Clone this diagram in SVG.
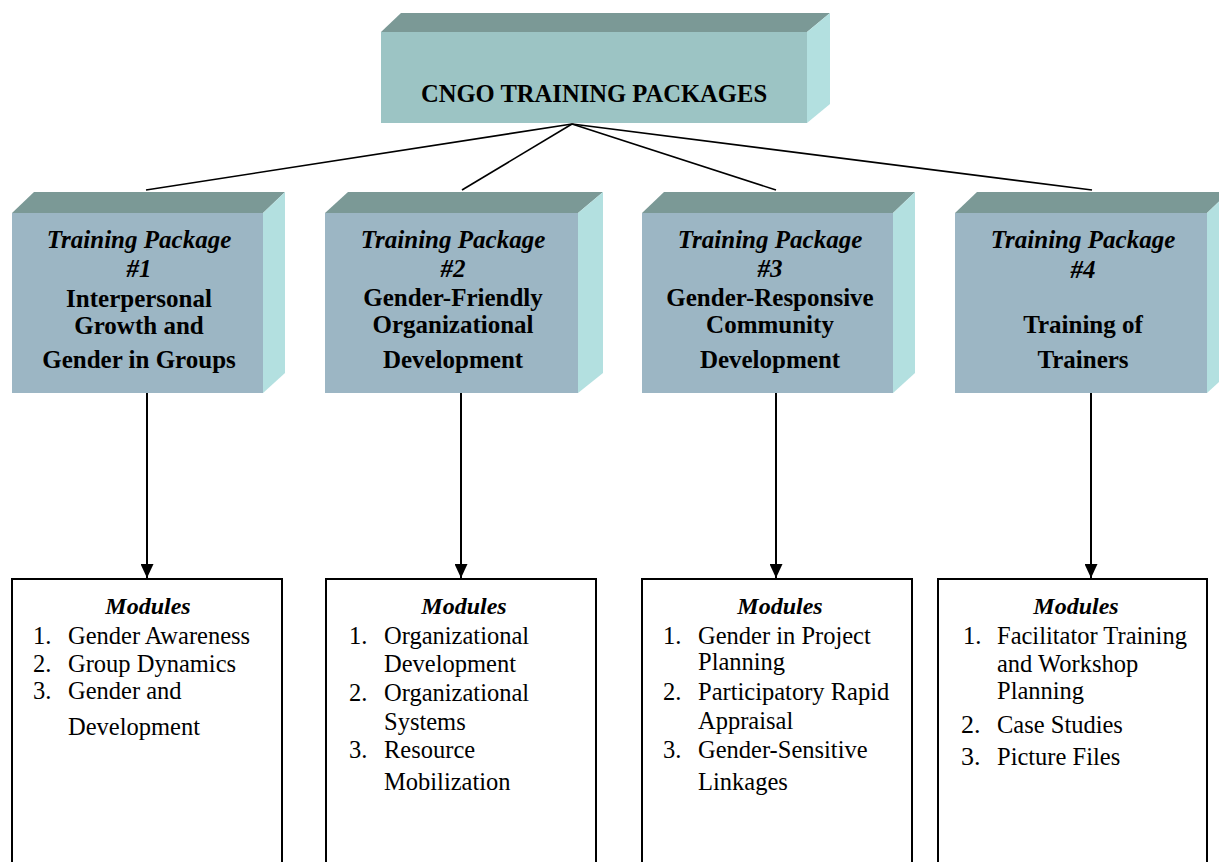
<svg xmlns="http://www.w3.org/2000/svg" width="1219" height="862" viewBox="0 0 1219 862">
<style>
.top{fill:#7b9996}
.front{fill:#9cb6c4}
.tfront{fill:#9cc4c4}
.side{fill:#b3e0e0}
.t{font-family:"Liberation Serif","Times New Roman",serif;fill:#000}
.pk{font-size:25px;font-weight:bold;text-anchor:middle}
.ttl{font-size:24.6px}
.it{font-style:italic}
.mod{font-size:24.5px}
.mh{font-size:24px;font-weight:bold;font-style:italic;text-anchor:middle}
.mbox{fill:#fff;stroke:#000;stroke-width:2}
.ln{stroke:#000;stroke-width:1.6;fill:none}
.ar{stroke:#000;stroke-width:2;fill:none;marker-end:url(#ah)}
</style>
<defs>
<marker id="ah" viewBox="0 0 14 13" refX="14" refY="6.5" markerWidth="14" markerHeight="13" markerUnits="userSpaceOnUse" orient="auto">
<path d="M0,0 L14,6.5 L0,13 Z" fill="#000"/>
</marker>
</defs>
<rect width="1219" height="862" fill="#fff"/>

<g id="connectors">
<line class="ln" x1="572" y1="124" x2="146" y2="190"/>
<line class="ln" x1="572" y1="124" x2="462" y2="190"/>
<line class="ln" x1="572" y1="124" x2="776" y2="190"/>
<line class="ln" x1="572" y1="124" x2="1092" y2="190"/>
<line class="ar" x1="147" y1="393" x2="147" y2="578"/>
<line class="ar" x1="461" y1="393" x2="461" y2="578"/>
<line class="ar" x1="776" y1="393" x2="776" y2="578"/>
<line class="ar" x1="1091" y1="393" x2="1091" y2="578"/>
</g>

<g id="title">
<polygon class="top" points="381,32 401,13 830,13 807,32"/>
<polygon class="side" points="807,32 830,13 830,104 807,123"/>
<rect class="tfront" x="381" y="32" width="426" height="91"/>
<text class="t pk ttl" x="594" y="102">CNGO TRAINING PACKAGES</text>
</g>

<g id="pkg1">
<polygon class="top" points="12,213 34,192 285,192 263,213"/>
<polygon class="side" points="263,213 285,192 285,373 263,393"/>
<rect class="front" x="12" y="213" width="251" height="180"/>
<text class="t pk it" x="139" y="248">Training Package</text>
<text class="t pk it" x="139" y="277">#1</text>
<text class="t pk" x="139" y="307">Interpersonal</text>
<text class="t pk" x="139" y="334">Growth and</text>
<text class="t pk" x="139" y="368">Gender in Groups</text>
</g>

<g id="pkg2">
<polygon class="top" points="325,213 348,192 603,192 578,213"/>
<polygon class="side" points="578,213 603,192 603,373 578,393"/>
<rect class="front" x="325" y="213" width="253" height="180"/>
<text class="t pk it" x="453" y="248">Training Package</text>
<text class="t pk it" x="453" y="277">#2</text>
<text class="t pk" x="453" y="306">Gender-Friendly</text>
<text class="t pk" x="453" y="333">Organizational</text>
<text class="t pk" x="453" y="368">Development</text>
</g>

<g id="pkg3">
<polygon class="top" points="642,213 664,192 915,192 893,213"/>
<polygon class="side" points="893,213 915,192 915,373 893,393"/>
<rect class="front" x="642" y="213" width="251" height="180"/>
<text class="t pk it" x="770" y="248">Training Package</text>
<text class="t pk it" x="770" y="277">#3</text>
<text class="t pk" x="770" y="306">Gender-Responsive</text>
<text class="t pk" x="770" y="333">Community</text>
<text class="t pk" x="770" y="368">Development</text>
</g>

<g id="pkg4">
<polygon class="top" points="955,213 977,192 1229,192 1207,213"/>
<polygon class="side" points="1207,213 1229,192 1229,373 1207,393"/>
<rect class="front" x="955" y="213" width="252" height="180"/>
<text class="t pk it" x="1083" y="248">Training Package</text>
<text class="t pk it" x="1083" y="278">#4</text>
<text class="t pk" x="1083" y="333">Training of</text>
<text class="t pk" x="1083" y="368">Trainers</text>
</g>

<g id="mod1">
<rect class="mbox" x="12" y="579" width="270" height="300"/>
<text class="t mh" x="148" y="614">Modules</text>
<text class="t mod" x="33" y="644">1.</text><text class="t mod" x="68" y="644">Gender Awareness</text>
<text class="t mod" x="33" y="672">2.</text><text class="t mod" x="68" y="672">Group Dynamics</text>
<text class="t mod" x="33" y="699">3.</text><text class="t mod" x="68" y="699">Gender and</text>
<text class="t mod" x="68" y="735">Development</text>
</g>

<g id="mod2">
<rect class="mbox" x="326" y="579" width="270" height="300"/>
<text class="t mh" x="464" y="614">Modules</text>
<text class="t mod" x="349" y="644">1.</text><text class="t mod" x="384" y="644">Organizational</text>
<text class="t mod" x="384" y="672">Development</text>
<text class="t mod" x="349" y="701">2.</text><text class="t mod" x="384" y="701">Organizational</text>
<text class="t mod" x="384" y="730">Systems</text>
<text class="t mod" x="349" y="758">3.</text><text class="t mod" x="384" y="758">Resource</text>
<text class="t mod" x="384" y="790">Mobilization</text>
</g>

<g id="mod3">
<rect class="mbox" x="642" y="579" width="270" height="300"/>
<text class="t mh" x="780" y="614">Modules</text>
<text class="t mod" x="663" y="644">1.</text><text class="t mod" x="698" y="644">Gender in Project</text>
<text class="t mod" x="698" y="670">Planning</text>
<text class="t mod" x="663" y="700">2.</text><text class="t mod" x="698" y="700">Participatory Rapid</text>
<text class="t mod" x="698" y="729">Appraisal</text>
<text class="t mod" x="663" y="758">3.</text><text class="t mod" x="698" y="758">Gender-Sensitive</text>
<text class="t mod" x="698" y="790">Linkages</text>
</g>

<g id="mod4">
<rect class="mbox" x="938" y="579" width="269" height="300"/>
<text class="t mh" x="1076" y="614">Modules</text>
<text class="t mod" x="963" y="644">1.</text><text class="t mod" x="997" y="644">Facilitator Training</text>
<text class="t mod" x="997" y="672">and Workshop</text>
<text class="t mod" x="997" y="699">Planning</text>
<text class="t mod" x="961" y="733" style="font-size:26px">2.</text><text class="t mod" x="997" y="733">Case Studies</text>
<text class="t mod" x="961" y="765" style="font-size:26px">3.</text><text class="t mod" x="997" y="765">Picture Files</text>
</g>
</svg>
